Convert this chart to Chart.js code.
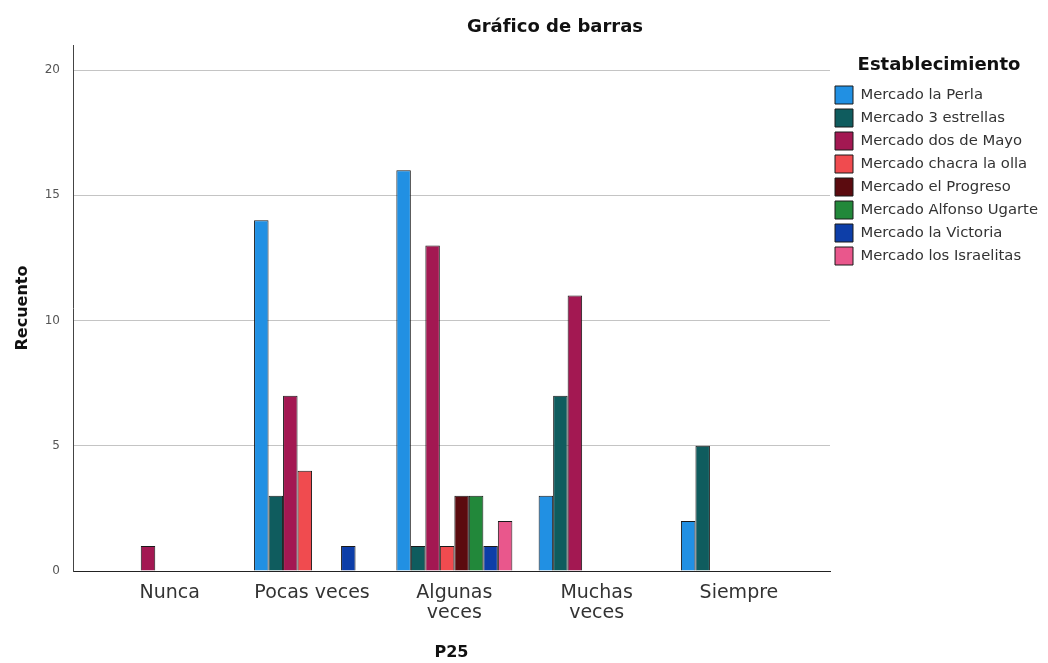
<!DOCTYPE html>
<html lang="es">
<head>
<meta charset="utf-8">
<title>Gráfico de barras</title>
<script src="https://cdn.jsdelivr.net/npm/chart.js@4.4.1/dist/chart.umd.min.js"></script>
<style>
  body { margin: 0; background: #fff; }
  #wrap { width: 1048px; height: 663px; }
</style>
</head>
<body>
<div id="wrap"><canvas id="chart"></canvas></div>
<script>
// P25 categories (x axis)
const categories = ["Nunca", "Pocas veces", ["Algunas", "veces"], ["Muchas", "veces"], "Siempre"];
const yTicks = [0, 5, 10, 15, 20];

// recuento por establecimiento
const seriesNames = [
  "Mercado la Perla",
  "Mercado 3 estrellas",
  "Mercado dos de Mayo",
  "Mercado chacra la olla",
  "Mercado el Progreso",
  "Mercado Alfonso Ugarte",
  "Mercado la Victoria",
  "Mercado los Israelitas",
];
const perla = [0, 14, 16, 3, 2];
const tresEstrellas = [0, 3, 1, 7, 5];
const dosDeMayo = [1, 7, 13, 11, 0];
const chacraLaOlla = [0, 4, 1, 0, 0];
const elProgreso = [0, 0, 3, 0, 0];
const alfonsoUgarte = [0, 0, 3, 0, 0];
const laVictoria = [0, 1, 1, 0, 0];
const israelitas = [0, 0, 2, 0, 0];

const allSeries = [perla, tresEstrellas, dosDeMayo, chacraLaOlla, elProgreso, alfonsoUgarte, laVictoria, israelitas];
const barColors = ["#2190e3", "#0f5c5e", "#a31852", "#f04b4f", "#5b0b0f", "#22883a", "#0d3ea8", "#e9578c"];

const FONT = "'DejaVu Sans', 'Liberation Sans', Arial, sans-serif";

const datasets = allSeries.map((values, i) => {
  return {
    label: seriesNames[i],
    data: values.map((v, j) => ({ x: j, y: v })),
    backgroundColor: barColors[i],
    borderColor: "#1a1a1a",
    borderWidth: 1,
    barThickness: 14.5,
    inflateAmount: 0,
  };
});

// move the chart title a bit to the right, like the original
const titleShift = {
  id: "titleShift",
  afterLayout(chart) {
    chart.titleBlock.left += 62;
  },
};

const config = {
  type: "bar",
  data: { datasets: datasets },
  plugins: [titleShift],
  options: {
    responsive: true,
    maintainAspectRatio: false,
    animation: false,
    layout: { padding: { left: 0, right: 0, top: 0, bottom: 0 } },
    plugins: {
      title: {
        display: true,
        text: "Gráfico de barras",
        color: "#111",
        font: { family: FONT, size: 18, weight: "bold" },
        padding: { top: 17, bottom: 6.4 },
      },
      legend: {
        position: "right",
        align: "start",
        fullSize: false,
        title: {
          display: true,
          text: "Establecimiento",
          color: "#111",
          font: { family: FONT, size: 18, weight: "bold" },
          padding: { top: 11, bottom: 3.4 },
        },
        labels: {
          color: "#333",
          font: { family: FONT, size: 14.8 },
          boxWidth: 18,
          boxHeight: 18,
          padding: 5,
        },
      },
      tooltip: { enabled: false },
    },
    scales: {
      x: {
        type: "linear",
        offset: false,
        min: -0.68,
        max: 4.64,
        afterBuildTicks: (scale) => {
          scale.ticks = categories.map((c, i) => ({ value: i }));
        },
        afterFit: (scale) => {
          scale.height = 92;
        },
        grid: { display: false, drawTicks: false, offset: false },
        border: { display: true, color: "#222", width: 1 },
        ticks: {
          autoSkip: false,
          maxRotation: 0,
          padding: 12,
          color: "#333",
          font: { family: FONT, size: 19, lineHeight: 1.05 },
          callback: (value) => categories[Math.round(value)],
        },
        title: {
          display: true,
          text: "P25",
          color: "#111",
          font: { family: FONT, size: 16, weight: "bold" },
          padding: { top: 0, bottom: 1 },
        },
      },
      y: {
        min: 0,
        max: 21,
        afterBuildTicks: (scale) => {
          scale.ticks = yTicks.map((v) => ({ value: v }));
        },
        afterFit: (scale) => {
          scale.width = 73;
        },
        grid: { color: "#c4c4c4", drawTicks: false },
        border: { display: true, color: "#444", width: 1 },
        ticks: {
          padding: 13,
          color: "#555",
          font: { family: FONT, size: 12 },
        },
        title: {
          display: true,
          text: "Recuento",
          color: "#111",
          font: { family: FONT, size: 16, weight: "bold" },
          padding: { top: 13, bottom: 0 },
        },
      },
    },
  },
};

const myChart = new Chart(document.getElementById("chart"), config);
</script>
</body>
</html>
